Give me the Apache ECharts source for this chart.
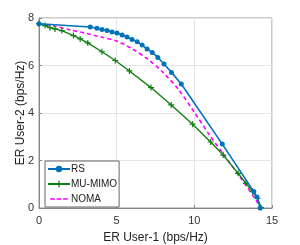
<!DOCTYPE html>
<html><head><meta charset="utf-8">
<script src="https://cdn.jsdelivr.net/npm/echarts@6/dist/echarts.min.js"></script>
<style>html,body{margin:0;padding:0;background:#fff}#c{width:300px;height:245px}</style>
</head><body><div id="c"></div>
<script>
const rsX = [0, 3.30, 3.73, 4.05, 4.38, 4.70, 5.02, 5.35, 5.67, 5.99, 6.32, 6.64, 6.96, 7.29, 7.65, 8.05, 8.53, 9.16, 11.80, 13.83, 14.03, 14.24];
const rsY = [7.76, 7.62, 7.57, 7.52, 7.47, 7.41, 7.37, 7.28, 7.20, 7.10, 7.00, 6.86, 6.69, 6.55, 6.34, 6.06, 5.71, 5.22, 2.69, 0.69, 0.46, 0];
const muX = [0, 0.39, 0.71, 1.03, 1.47, 2.22, 2.65, 3.14, 4.05, 4.91, 5.82, 7.21, 8.51, 9.89, 11.05, 11.86, 12.82, 13.32, 13.75, 14.07, 14.29];
const muY = [7.76, 7.68, 7.59, 7.54, 7.47, 7.26, 7.12, 6.95, 6.58, 6.21, 5.77, 5.07, 4.34, 3.53, 2.78, 2.23, 1.46, 1.04, 0.69, 0.41, 0.02];
const nomaX = [0, 1, 2, 3, 4, 5, 6, 7, 8, 9, 10, 11, 12, 13, 14, 14.24];
const nomaY = [7.76, 7.66, 7.50, 7.36, 7.20, 7.03, 6.70, 6.27, 5.70, 4.97, 4.03, 3.05, 2.15, 1.25, 0.30, 0];
const xTicks = [0, 5, 10, 15];
const yTicks = [0, 2, 4, 6, 8];
const seriesNames = ['RS', 'MU-MIMO', 'NOMA'];
const xLabel = 'ER User-1 (bps/Hz)';
const yLabel = 'ER User-2 (bps/Hz)';

const zip = (a, b) => a.map((v, i) => [v, b[i]]);
const plus = 'path://M4,0H6V4H10V6H6V10H4V6H0V4H4Z';
const dashIcon = 'path://M0,0H0.01V0.01H0Z M0,4H6V6H0Z M8,4H14V6H8Z M16,4H22V6H16Z M0,9.99H0.01V10H0Z';
const font = 'Liberation Sans';
const chart = echarts.init(document.getElementById('c'), null, {renderer: 'canvas'});
const axisCommon = {
  axisLine: {show: true, lineStyle: {color: '#888', width: 1}},
  axisTick: {show: true, inside: true, length: 3, lineStyle: {color: '#888'}},
  splitLine: {show: true, lineStyle: {color: '#e6e6e6', width: 1}},
  nameTextStyle: {color: '#222', fontSize: 12, fontFamily: font},
  nameMoveOverlap: false
};
chart.setOption({
  animation: false,
  grid: {left: 39, right: 28, top: 18, bottom: 37, show: true, borderColor: '#999', borderWidth: 1,
    containLabel: false, outerBoundsMode: 'none'},
  xAxis: Object.assign({type: 'value', min: xTicks[0], max: xTicks[xTicks.length - 1], interval: 5,
    name: xLabel, nameLocation: 'middle', nameGap: 24,
    axisLabel: {color: '#333', fontSize: 11, fontFamily: font, margin: 7}}, axisCommon),
  yAxis: Object.assign({type: 'value', min: yTicks[0], max: yTicks[yTicks.length - 1], interval: 2,
    name: yLabel, nameLocation: 'middle', nameGap: 12,
    axisLabel: {color: '#333', fontSize: 11, fontFamily: font, margin: 5}}, axisCommon),
  legend: {
    orient: 'vertical', left: 45, top: 161, padding: [3, 2, 3, 2], itemGap: 5,
    itemWidth: 22, itemHeight: 8, borderColor: '#666', borderWidth: 1, backgroundColor: '#fff',
    textStyle: {fontSize: 10, color: '#222', fontFamily: font, padding: [0, 0, 0, -4]},
    data: [{name: seriesNames[0]}, {name: seriesNames[1]}, {name: seriesNames[2], icon: dashIcon, itemStyle: {color: '#FF00FF'}}]
  },
  series: [
    {name: seriesNames[0], type: 'line', data: zip(rsX, rsY), symbol: 'circle', symbolSize: 5,
      lineStyle: {color: '#0072BD', width: 1.6}, itemStyle: {color: '#0072BD'}, z: 4},
    {name: seriesNames[1], type: 'line', data: zip(muX, muY), symbol: plus, symbolSize: 6,
      lineStyle: {color: '#118011', width: 1.4}, itemStyle: {color: '#118011'}, z: 3},
    {name: seriesNames[2], type: 'line', data: zip(nomaX, nomaY), symbol: 'none', smooth: 0.3,
      lineStyle: {color: '#FF00FF', width: 1.6, type: [4, 3]}, itemStyle: {color: '#FF00FF'}, z: 2}
  ]
});
</script></body></html>
